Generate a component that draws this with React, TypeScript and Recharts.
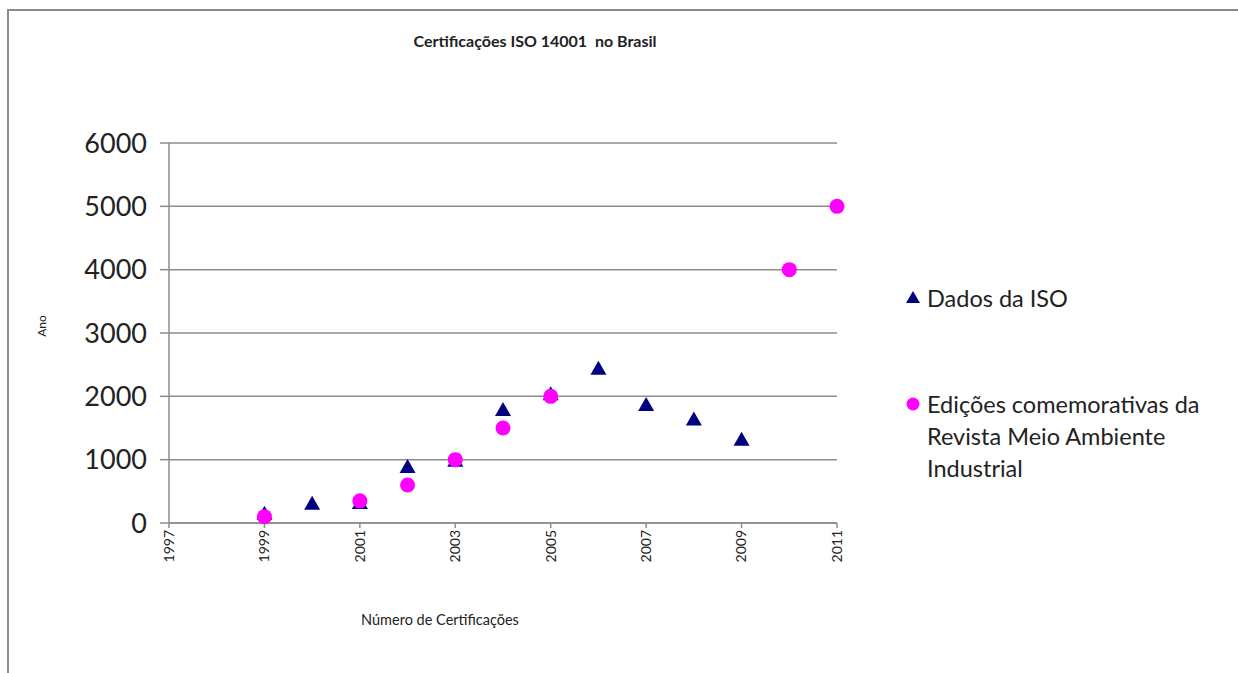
import React from 'react';
import { ScatterChart, Scatter, XAxis, YAxis, CartesianGrid } from 'recharts';

const isoYears = [1999, 2000, 2001, 2002, 2003, 2004, 2005, 2006, 2007, 2008, 2009];
const isoValues = [160, 320, 330, 900, 1000, 1800, 2050, 2450, 1880, 1650, 1330];
const revistaYears = [1999, 2001, 2002, 2003, 2004, 2005, 2010, 2011];
const revistaValues = [100, 350, 600, 1000, 1500, 2000, 4000, 5000];
const xTicks = [1997, 1999, 2001, 2003, 2005, 2007, 2009, 2011];
const yTicks = [0, 1000, 2000, 3000, 4000, 5000, 6000];

const title = 'Certificações ISO 14001  no Brasil';
const xLabel = 'Número de Certificações';
const yLabel = 'Ano';
const isoName = 'Dados da ISO';
const revistaName = 'Edições comemorativas da Revista Meio Ambiente Industrial';

const isoData = isoYears.map((year, i) => ({ year, value: isoValues[i] }));
const revistaData = revistaYears.map((year, i) => ({ year, value: revistaValues[i] }));

const NAVY = '#000080';
const MAGENTA = '#FF00FF';
const FONT = 'Lato, "Open Sans", sans-serif';

const Triangle = (props: any) => {
  const { cx, cy } = props;
  if (cx == null || cy == null) return null;
  const h = 14;
  const w = 16;
  return (
    <path
      d={`M${cx},${cy - h / 2} L${cx + w / 2},${cy + h / 2} L${cx - w / 2},${cy + h / 2} Z`}
      fill={NAVY}
    />
  );
};

const Dot = (props: any) => {
  const { cx, cy } = props;
  if (cx == null || cy == null) return null;
  return <circle cx={cx} cy={cy} r={7.5} fill={MAGENTA} />;
};

const XTick = (props: any) => {
  const { x, y, payload } = props;
  return (
    <text
      transform={`translate(${x},${y}) rotate(-90)`}
      textAnchor="end"
      dy="0.35em"
      fontSize={14}
      fontFamily={FONT}
      fill="#222"
    >
      {payload.value}
    </text>
  );
};

export default function App() {
  return (
    <div style={{ position: 'absolute', left: 0, top: 0, width: 1238, height: 673, overflow: 'hidden', background: '#fff' }}>
      <div
        style={{
          position: 'absolute',
          left: 7,
          top: 9,
          width: 1260,
          height: 700,
          border: '2px solid #8c8c8c',
          boxSizing: 'border-box',
        }}
      />
      <ScatterChart
        width={1238}
        height={673}
        margin={{ top: 143, right: 401, bottom: 90, left: 0 }}
        style={{ position: 'absolute', left: 0, top: 0, overflow: 'visible' }}
      >
        <CartesianGrid vertical={false} stroke="#8c8c8c" strokeWidth={1.5} />
        <XAxis
          type="number"
          dataKey="year"
          domain={[1997, 2011]}
          ticks={xTicks}
          height={60}
          stroke="#8c8c8c"
          strokeWidth={1.5}
          tickSize={5}
          tickMargin={2}
          tick={<XTick />}
          interval={0}
        />
        <YAxis
          type="number"
          dataKey="value"
          domain={[0, 6000]}
          ticks={yTicks}
          width={169}
          stroke="#8c8c8c"
          strokeWidth={1.5}
          tickSize={9}
          tickMargin={13}
          interval={0}
          tick={{ fontSize: 27, fontFamily: FONT, fill: '#222' }}
        />
        <Scatter name={isoName} data={isoData} shape={<Triangle />} isAnimationActive={false} />
        <Scatter name={revistaName} data={revistaData} shape={<Dot />} isAnimationActive={false} />
      </ScatterChart>
      <div
        style={{
          position: 'absolute',
          left: 335,
          width: 400,
          top: 31,
          textAlign: 'center',
          fontFamily: FONT,
          fontSize: 16,
          fontWeight: 700,
          color: '#222',
          whiteSpace: 'pre',
        }}
      >
        {title}
      </div>
      <div
        style={{
          position: 'absolute',
          left: 240,
          width: 400,
          top: 611,
          textAlign: 'center',
          fontFamily: FONT,
          fontSize: 14.5,
          color: '#222',
        }}
      >
        {xLabel}
      </div>
      <div
        style={{
          position: 'absolute',
          left: 41,
          top: 326,
          transform: 'translate(-50%, -50%) rotate(-90deg)',
          fontFamily: FONT,
          fontSize: 12,
          color: '#222',
        }}
      >
        {yLabel}
      </div>
      <div style={{ position: 'absolute', left: 904, top: 282, fontFamily: FONT, fontSize: 23.5, color: '#222', lineHeight: '32px' }}>
        <div style={{ display: 'flex', alignItems: 'flex-start' }}>
          <svg width={18} height={32} style={{ marginRight: 5 }}>
            <path d="M9,9 L16,21 L2,21 Z" fill={NAVY} />
          </svg>
          <span>{isoName}</span>
        </div>
        <div style={{ display: 'flex', alignItems: 'flex-start', marginTop: 74 }}>
          <svg width={18} height={32} style={{ marginRight: 5, flexShrink: 0 }}>
            <circle cx={9} cy={16} r={6.5} fill={MAGENTA} />
          </svg>
          <span style={{ width: 300 }}>{revistaName}</span>
        </div>
      </div>
    </div>
  );
}
